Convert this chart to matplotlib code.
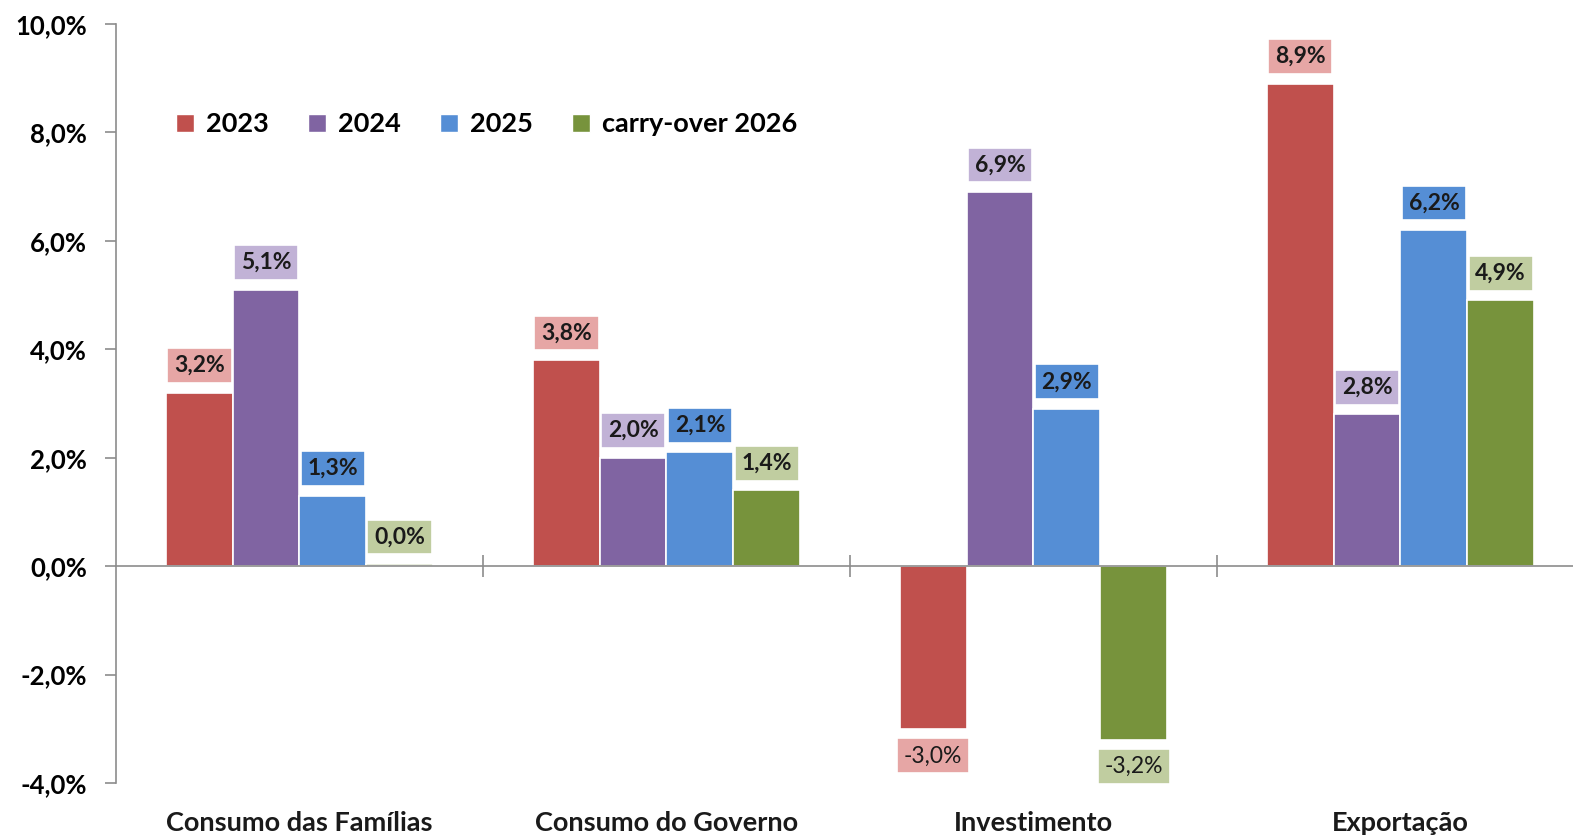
import matplotlib
matplotlib.use("Agg")
import matplotlib.pyplot as plt
import matplotlib.transforms as mtransforms
from matplotlib.patches import Rectangle
import numpy as np

# data
categories = ["Consumo das Famílias", "Consumo do Governo", "Investimento", "Exportação"]
series_names = ["2023", "2024", "2025", "carry-over 2026"]
v2023 = [3.2, 3.8, -3.0, 8.9]
v2024 = [5.1, 2.0, 6.9, 2.8]
v2025 = [1.3, 2.1, 2.9, 6.2]
v2026 = [0.04, 1.4, -3.2, 4.9]
yticks = [-4, -2, 0, 2, 4, 6, 8, 10]

bar_colors = ["#C0504D", "#8064A2", "#558ED5", "#77933C"]
box_colors = ["#E6A6A5", "#C1B2D6", "#558ED5", "#C0CDA0"]

plt.rcParams["font.family"] = ["Lato", "DejaVu Sans"]

fig = plt.figure(figsize=(15.73, 8.39), dpi=100)
ax = fig.add_axes([116 / 1573, 56 / 839, 1468 / 1573, 759 / 839])

x = np.arange(len(categories))
width = 0.182
all_series = [v2023, v2024, v2025, v2026]

for j, vals in enumerate(all_series):
    pos = x + (j - 1.5) * width
    ax.bar(pos, vals, width, color=bar_colors[j], edgecolor="white",
           linewidth=1.2, label=series_names[j], zorder=2)
    for xp, v in zip(pos, vals):
        txt = f"{round(v, 1):.1f}".replace(".", ",") + "%"
        off = 19.5 if v >= 0 else -19.5
        ax.annotate(txt, (xp, v), xytext=(0, off), textcoords="offset points",
                    ha="center", va="center", fontsize=16.5,
                    fontweight="bold" if v >= 0 else "normal", color="#1a1a1a",
                    bbox=dict(boxstyle="square,pad=0.3", fc=box_colors[j],
                              ec="white", lw=1.2),
                    zorder=3)

ax.set_xlim(-0.5, 3.5)
ax.set_ylim(-4, 10)
ax.set_yticks(yticks)
ax.set_yticklabels([f"{t:.1f}".replace(".", ",") + "%" for t in yticks],
                   fontsize=18.5, fontweight="bold")
ax.tick_params(axis="y", direction="out", length=8, width=1.2,
               color="#8c8c8c", pad=13)

for s in ["top", "right"]:
    ax.spines[s].set_visible(False)
ax.spines["left"].set_color("#8c8c8c")
ax.spines["left"].set_linewidth(1.2)
ax.spines["bottom"].set_position(("data", 0))
ax.spines["bottom"].set_color("#8c8c8c")
ax.spines["bottom"].set_linewidth(1.2)

ax.set_xticks(x)
ax.set_xticklabels([])
ax.tick_params(axis="x", which="major", length=0)
ax.set_xticks(x[:-1] + 0.5, minor=True)
ax.tick_params(axis="x", which="minor", direction="inout", length=16,
               width=1.2, color="#8c8c8c")

trans = mtransforms.blended_transform_factory(ax.transData, fig.transFigure)
for xi, cat in zip(x, categories):
    ax.text(xi, 16 / 839, cat, transform=trans, ha="center", va="center",
            fontsize=19.5, fontweight="bold", color="#1a1a1a")

handles = [Rectangle((0, 0), 1, 1, fc=c, ec="white") for c in bar_colors]
leg = ax.legend(handles, series_names, loc="upper left",
                bbox_to_anchor=(36 / 1468, 0.916), ncol=4, frameon=False,
                prop={"size": 19.5, "weight": "bold"}, handlelength=0.65,
                handleheight=0.65, handletextpad=0.45, columnspacing=1.45)

fig.savefig("out.png", dpi=100)
